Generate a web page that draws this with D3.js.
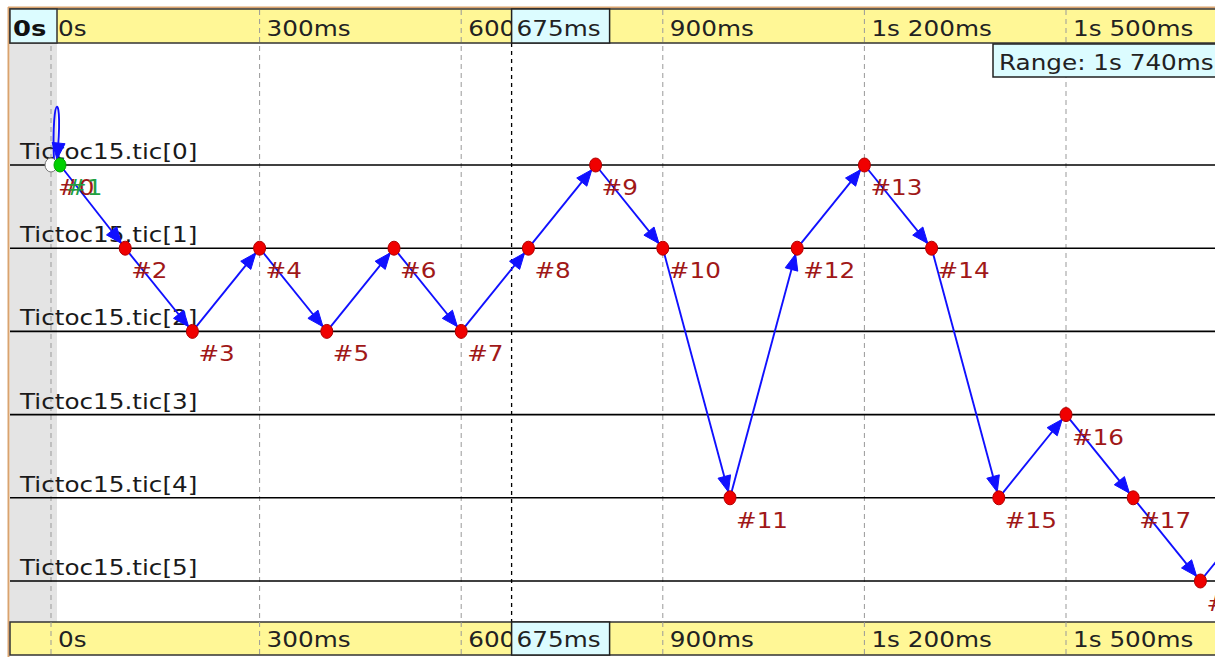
<!DOCTYPE html>
<html>
<head>
<meta charset="utf-8">
<script src="https://cdn.jsdelivr.net/npm/d3@7"></script>
<style>
body { margin: 0; background: #fff; }
svg { display: block; font-family: "DejaVu Sans", sans-serif; }
</style>
</head>
<body>
<svg id="chart" width="1215" height="657"></svg>
<script>
'use strict';

// axes of the modules (one per lane)
var laneNames = ['Tictoc15.tic[0]', 'Tictoc15.tic[1]', 'Tictoc15.tic[2]',
	'Tictoc15.tic[3]', 'Tictoc15.tic[4]', 'Tictoc15.tic[5]'];

// events: number, simulation time (ms), lane index
var eventIds   = [0, 1, 2, 3, 4, 5, 6, 7, 8, 9, 10, 11, 12, 13, 14, 15, 16, 17, 18, 19];
var eventTimes = [0, 0, 100, 200, 300, 400, 500, 600, 700, 800, 900, 1000, 1100, 1200, 1300, 1400, 1500, 1600, 1700, 1800];
var eventLanes = [0, 0, 1, 2, 1, 2, 1, 2, 1, 0, 1, 4, 1, 0, 1, 4, 3, 4, 5, 4];

// messages: from event -> to event
var msgFrom = [1, 2, 3, 4, 5, 6, 7, 8, 9, 10, 11, 12, 13, 14, 15, 16, 17, 18];
var msgTo   = [2, 3, 4, 5, 6, 7, 8, 9, 10, 11, 12, 13, 14, 15, 16, 17, 18, 19];

// time axis
var tickValues = [0, 300, 600, 900, 1200, 1500];
var tickLabels = ['0s', '300ms', '600ms', '900ms', '1s 200ms', '1s 500ms'];
var cursorTime = 675;
var cursorLabel = '675ms';
var rangeLabel = 'Range: 1s 740ms';
var startLabel = '0s';

var W = 1215, H = 657;
var left = 10, greyW = 47;
var topBar = {y: 9, h: 34}, botBar = {y: 622, h: 33};
var stretch = 'scale(1.175,1)';

var x = d3.scaleLinear().domain([0, 1700]).range([58, 1200.4]);
var y = d3.scalePoint().domain(d3.range(laneNames.length)).range([165, 581]);

// the zero tick sits a little left of the first event in the original
function tickX(d) { return x(d) - (d === 0 ? 7 : 0); }

var svg = d3.select('#chart');

function stext(sel, tx, ty) {
	return sel.attr('transform', 'translate(' + tx + ',' + ty + ') ' + stretch);
}

// frame
svg.append('line').attr('x1', 8).attr('x2', W).attr('y1', 7.5).attr('y2', 7.5)
	.attr('stroke', '#d9a36f').attr('stroke-width', 2);
svg.append('line').attr('x1', 8.5).attr('x2', 8.5).attr('y1', 7).attr('y2', H)
	.attr('stroke', '#d9a36f').attr('stroke-width', 2);

// grey area before start
svg.append('rect').attr('x', left).attr('y', topBar.y + topBar.h)
	.attr('width', greyW).attr('height', botBar.y - topBar.y - topBar.h)
	.attr('fill', '#e4e4e4');

// axis bars
[topBar, botBar].forEach(function (b) {
	svg.append('rect').attr('x', left).attr('y', b.y)
		.attr('width', W - left + 2).attr('height', b.h)
		.attr('fill', '#fff796').attr('stroke', '#333').attr('stroke-width', 1.5);
});

// grid
svg.append('g').selectAll('line').data(tickValues).enter().append('line')
	.attr('x1', tickX).attr('x2', tickX)
	.attr('y1', topBar.y + 1).attr('y2', botBar.y + botBar.h - 1)
	.attr('stroke', '#999').attr('stroke-width', 1)
	.attr('stroke-dasharray', '5,4');

// tick labels (top and bottom)
[topBar.y + 27, botBar.y + 25].forEach(function (ty) {
	svg.append('g').selectAll('text').data(tickValues).enter().append('text')
		.each(function (d) { stext(d3.select(this), tickX(d) + 7, ty); })
		.attr('font-size', 21).attr('fill', '#222')
		.text(function (d, i) { return tickLabels[i]; });
});

// lanes
var lanes = svg.append('g');
lanes.selectAll('line').data(laneNames).enter().append('line')
	.attr('x1', left).attr('x2', W)
	.attr('y1', function (d, i) { return y(i); })
	.attr('y2', function (d, i) { return y(i); })
	.attr('stroke', '#000').attr('stroke-width', 1.6);
lanes.selectAll('text').data(laneNames).enter().append('text')
	.each(function (d, i) { stext(d3.select(this), 20, y(i) - 6); })
	.attr('font-size', 21).attr('fill', '#1a1a1a')
	.text(function (d) { return d; });

// cursor line
svg.append('line').attr('x1', x(cursorTime)).attr('x2', x(cursorTime))
	.attr('y1', topBar.y + topBar.h).attr('y2', botBar.y)
	.attr('stroke', '#000').attr('stroke-width', 1.3).attr('stroke-dasharray', '4,4');

// messages
function ex(i) { return i === 0 ? x(eventTimes[i]) - 7 : x(eventTimes[i]) + (i === 1 ? 2 : 0); }
function ey(i) { return y(eventLanes[i]); }

var blue = '#1010ff';
var msgs = svg.append('g');
function arrowHead(g, tx, ty, dx, dy) {
	var len = Math.sqrt(dx * dx + dy * dy), ux = dx / len, uy = dy / len;
	var L = 16, hw = 6.5;
	var bx = tx - ux * L, by = ty - uy * L;
	g.append('path')
		.attr('d', 'M' + tx + ',' + ty +
			'L' + (bx - uy * hw) + ',' + (by + ux * hw) +
			'L' + (bx + uy * hw) + ',' + (by - ux * hw) + 'Z')
		.attr('fill', blue).attr('stroke', blue).attr('stroke-width', 1);
}
msgFrom.forEach(function (f, k) {
	var t = msgTo[k];
	var x1 = ex(f), y1 = ey(f), x2 = ex(t), y2 = ey(t);
	var dx = x2 - x1, dy = y2 - y1, len = Math.sqrt(dx * dx + dy * dy);
	var tx = x2 - dx / len * 6, ty = y2 - dy / len * 6;
	msgs.append('line').attr('x1', x1).attr('y1', y1).attr('x2', tx).attr('y2', ty)
		.attr('stroke', blue).attr('stroke-width', 1.9);
	arrowHead(msgs, tx, ty, dx, dy);
});
// self message #0 -> #1
(function () {
	var sx = ex(0) + 3, sy = ey(0) - 4, tx = ex(1) - 3, ty = ey(1) - 6, top = ey(0) - 76;
	msgs.append('path')
		.attr('d', 'M' + sx + ',' + sy + 'C' + (sx - 3) + ',' + top + ' ' + (sx + 10) + ',' + top + ' ' + tx + ',' + ty)
		.attr('fill', 'none').attr('stroke', blue).attr('stroke-width', 1.9);
	arrowHead(msgs, tx, ty, tx - (sx + 10), ty - top);
})();

// events
var ev = svg.append('g');
ev.selectAll('ellipse').data(eventIds).enter().append('ellipse')
	.attr('cx', function (d, i) { return ex(i); })
	.attr('cy', function (d, i) { return ey(i); })
	.attr('rx', 6).attr('ry', 7)
	.attr('fill', function (d) { return d === 0 ? '#fff' : d === 1 ? '#00d000' : '#f00000'; })
	.attr('stroke', function (d) { return d === 0 ? '#777' : d === 1 ? '#00a000' : '#b00000'; })
	.attr('stroke-width', 1);
ev.selectAll('text').data(eventIds).enter().append('text')
	.each(function (d, i) { stext(d3.select(this), ex(i) + (d === 0 ? 7 : 6), ey(i) + 30); })
	.attr('font-size', 21)
	.attr('fill', function (d) { return d === 1 ? '#20a040' : '#a01818'; })
	.text(function (d) { return '#' + d; });

// start label box
svg.append('rect').attr('x', left).attr('y', topBar.y).attr('width', greyW).attr('height', topBar.h)
	.attr('fill', '#dcfcff').attr('stroke', '#333').attr('stroke-width', 1.5);
stext(svg.append('text'), left + 3, topBar.y + 27)
	.attr('font-size', 22).attr('font-weight', 'bold').attr('fill', '#111').text(startLabel);

// cursor label boxes
[topBar, botBar].forEach(function (b) {
	svg.append('rect').attr('x', x(cursorTime)).attr('y', b.y).attr('width', 98).attr('height', b.h)
		.attr('fill', '#dcfcff').attr('stroke', '#222').attr('stroke-width', 1.5);
	stext(svg.append('text'), x(cursorTime) + 5, b.y + (b === topBar ? 27 : 25))
		.attr('font-size', 21).attr('fill', '#222').text(cursorLabel);
});

// range box
svg.append('rect').attr('x', 993).attr('y', topBar.y + topBar.h + 1).attr('width', 240).attr('height', 33)
	.attr('fill', '#dcfcff').attr('stroke', '#222').attr('stroke-width', 1.5);
stext(svg.append('text'), 999, topBar.y + topBar.h + 27)
	.attr('font-size', 21).attr('fill', '#222').text(rangeLabel);
</script>
</body>
</html>
